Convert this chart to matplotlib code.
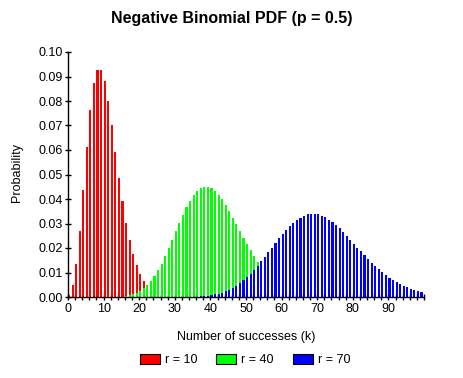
import matplotlib
matplotlib.use("Agg")
import matplotlib.pyplot as plt
from matplotlib.patches import Patch

# Data (probabilities read for k = start, start+1, ...)
r10_start = 0
r10_vals = [0.001, 0.0049, 0.0134, 0.0269, 0.0436, 0.0611, 0.0764, 0.0873, 0.0927, 0.0927,
            0.0881, 0.0801, 0.0701, 0.0593, 0.0487, 0.039, 0.0304, 0.0233, 0.0175, 0.0129,
            0.0093, 0.0067, 0.0047, 0.0033, 0.0022, 0.0015, 0.001, 0.0007, 0.0005, 0.0003,
            0.0002, 0.0001, 0.0001, 0.0001]

r40_start = 13
r40_vals = [0.0001, 0.0001, 0.0002, 0.0004, 0.0007, 0.0011, 0.0016, 0.0024, 0.0035, 0.0048,
            0.0065, 0.0085, 0.0109, 0.0136, 0.0166, 0.0199, 0.0233, 0.0268, 0.0302, 0.0336,
            0.0366, 0.0393, 0.0415, 0.0433, 0.0444, 0.045, 0.045, 0.0445, 0.0434, 0.0418,
            0.0399, 0.0376, 0.0351, 0.0324, 0.0297, 0.0269, 0.0242, 0.0215, 0.019, 0.0166,
            0.0144, 0.0124, 0.0106, 0.009, 0.0076, 0.0063, 0.0053, 0.0043, 0.0036, 0.0029,
            0.0023, 0.0019, 0.0015, 0.0012, 0.0009, 0.0007, 0.0006, 0.0005, 0.0004, 0.0003,
            0.0002, 0.0002, 0.0001, 0.0001, 0.0001, 0.0001]

r70_start = 33
r70_vals = [0.0001, 0.0001, 0.0001, 0.0002, 0.0003, 0.0004, 0.0006, 0.0008, 0.0011, 0.0014,
            0.0018, 0.0024, 0.003, 0.0037, 0.0046, 0.0056, 0.0068, 0.0081, 0.0095, 0.011,
            0.0127, 0.0145, 0.0163, 0.0182, 0.0201, 0.022, 0.0239, 0.0257, 0.0273, 0.0289,
            0.0303, 0.0315, 0.0324, 0.0332, 0.0337, 0.0339, 0.0339, 0.0337, 0.0332, 0.0325,
            0.0316, 0.0305, 0.0293, 0.028, 0.0265, 0.025, 0.0234, 0.0218, 0.0202, 0.0186,
            0.017, 0.0155, 0.014, 0.0126, 0.0113, 0.0101, 0.009, 0.0079, 0.007, 0.0061,
            0.0053, 0.0046, 0.004, 0.0034, 0.0029, 0.0025, 0.0021]

series_labels = ["r = 10", "r = 40", "r = 70"]
series_colors = ["#ff0000", "#00ff00", "#0000ff"]
x_tick_labels = ["0", "10", "20", "30", "40", "50", "60", "70", "80", "90"]
y_tick_labels = ["0.00", "0.01", "0.02", "0.03", "0.04", "0.05", "0.06", "0.07", "0.08", "0.09", "0.10"]

plt.rcParams["font.family"] = ["Liberation Sans", "DejaVu Sans"]

W, H = 463, 378
fig = plt.figure(figsize=(W / 100, H / 100), dpi=100)
ax = fig.add_axes([68 / W, 1 - 297 / H, (424 - 68) / W, (297 - 52) / H])

series = [(r10_start, r10_vals), (r40_start, r40_vals), (r70_start, r70_vals)]
for (start, vals), col in zip(series, series_colors):
    ks = list(range(start, start + len(vals)))
    ax.bar(ks, vals, width=0.6, align="edge", color=col, linewidth=0, zorder=2,
           antialiased=False)

ax.set_xlim(0, 100)
ax.set_ylim(0, 0.1)
ax.set_xticks([int(t) for t in x_tick_labels])
ax.set_xticklabels(x_tick_labels)
ax.set_xticks(list(range(0, 101, 2)), minor=True)
ax.set_yticks([float(t) for t in y_tick_labels])
ax.set_yticklabels(y_tick_labels)

for s in ["top", "right"]:
    ax.spines[s].set_visible(False)
for s in ["left", "bottom"]:
    ax.spines[s].set_linewidth(1.0)
    ax.spines[s].set_color("black")
    ax.spines[s].set_zorder(3)

ax.tick_params(axis="both", which="both", direction="inout", length=5, width=1,
               labelsize=9, colors="black", pad=1)
ax.tick_params(axis="x", which="major", pad=2)

fig.text(0.5, 1 - 18 / H, "Negative Binomial PDF (p = 0.5)", ha="center", va="center",
         fontsize=11.5, fontweight="bold")
fig.text(246 / W, 1 - 337 / H, "Number of successes (k)", ha="center", va="center", fontsize=9)
fig.text(17 / W, 1 - 172 / H, "Probability", ha="center", va="center", rotation=90, fontsize=9)

handles = [Patch(facecolor=c, edgecolor="black", linewidth=0.8) for c in series_colors]
fig.legend(handles, series_labels, loc="center", bbox_to_anchor=(245 / W, 1 - 360 / H),
           ncol=3, frameon=False, fontsize=9, handlelength=1.6, handleheight=0.9,
           handletextpad=0.4, columnspacing=1.5, borderaxespad=0, borderpad=0)

fig.savefig("out.png", dpi=100)
